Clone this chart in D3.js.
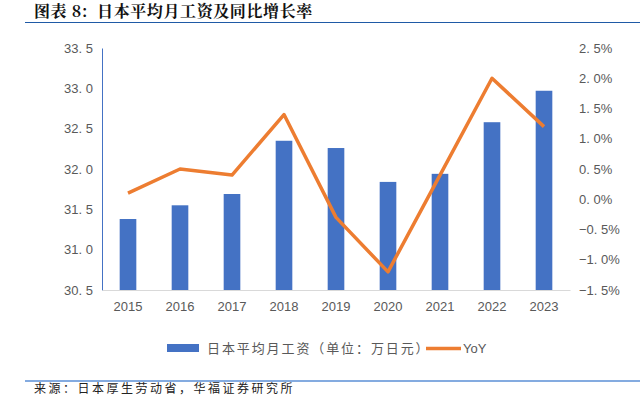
<!DOCTYPE html>
<html>
<head>
<meta charset="utf-8">
<title>日本平均月工资及同比增长率</title>
<script src="https://cdn.jsdelivr.net/npm/d3@7"></script>
<style>
  body { margin: 0; background: #fff; }
  svg { display: block; }
  .tick text { fill: #595959; font-family: "Liberation Sans", Arial, sans-serif; font-size: 13px; white-space: pre; }
</style>
</head>
<body>
<svg width="640" height="395"></svg>
<script>
  var years = ["2015", "2016", "2017", "2018", "2019", "2020", "2021", "2022", "2023"];
  var wage = [31.38, 31.55, 31.69, 32.35, 32.26, 31.84, 31.94, 32.58, 32.97];
  var yoy = [0.1, 0.5, 0.4, 1.4, -0.3, -1.2, 0.4, 2.0, 1.2];
  var leftTicks = [30.5, 31.0, 31.5, 32.0, 32.5, 33.0, 33.5];
  var rightTicks = [-1.5, -1.0, -0.5, 0.0, 0.5, 1.0, 1.5, 2.0, 2.5];

  var svg = d3.select("svg");
  var cjk = "'Noto Sans CJK SC', sans-serif";

  // header and footer
  svg.append("text")
    .attr("x", 34).attr("y", 17)
    .attr("font-family", "'Noto Serif CJK SC', 'Noto Sans CJK SC', serif")
    .attr("font-weight", "bold").attr("font-size", 16)
    .attr("letter-spacing", 0.6)
    .attr("fill", "#111")
    .attr("xml:space", "preserve")
    .text("图表 8:  日本平均月工资及同比增长率");
  svg.append("line")
    .attr("x1", 25).attr("x2", 640).attr("y1", 22.5).attr("y2", 22.5)
    .attr("stroke", "#1f5aa6").attr("stroke-width", 1.2);
  svg.append("line")
    .attr("x1", 25).attr("x2", 640).attr("y1", 381).attr("y2", 381)
    .attr("stroke", "#5b8fd6").attr("stroke-width", 1.6);
  svg.append("text")
    .attr("x", 34).attr("y", 393)
    .attr("font-family", cjk).attr("font-size", 12)
    .attr("letter-spacing", 2.5)
    .attr("fill", "#222")
    .text("来源：日本厚生劳动省，华福证券研究所");

  var x = d3.scaleBand().domain(years).range([102, 570]).paddingInner(0.68).paddingOuter(0.34);
  var yL = d3.scaleLinear().domain([30.5, 33.5]).range([290, 48]);
  var yR = d3.scaleLinear().domain([-1.5, 2.5]).range([290, 48]);

  var fmt = function (d) { return d.toFixed(1).replace(".", ". ").replace("-", "−"); };

  // left axis
  var gl = svg.append("g").attr("transform", "translate(102,0)")
    .call(d3.axisLeft(yL).tickValues(leftTicks).tickSize(0).tickPadding(9).tickFormat(fmt));
  gl.select(".domain").attr("stroke", "#4472c4").attr("stroke-width", 1);

  // right axis
  var gr = svg.append("g").attr("transform", "translate(570,0)")
    .call(d3.axisRight(yR).tickValues(rightTicks).tickSize(0).tickPadding(9)
      .tickFormat(function (d) { return fmt(d) + "%"; }));
  gr.select(".domain").remove();

  // bottom axis
  var gb = svg.append("g").attr("transform", "translate(0,290)")
    .call(d3.axisBottom(x).tickSize(0).tickPadding(12));
  gb.select(".domain").attr("stroke", "#d9d9d9").attr("stroke-width", 1);

  // bars
  svg.append("g").selectAll("rect")
    .data(years)
    .enter().append("rect")
    .attr("x", function (d) { return x(d); })
    .attr("width", x.bandwidth())
    .attr("y", function (d, i) { return yL(wage[i]); })
    .attr("height", function (d, i) { return yL(30.5) - yL(wage[i]); })
    .attr("fill", "#4472c4");

  // yoy line
  var line = d3.line()
    .x(function (d, i) { return x(years[i]) + x.bandwidth() / 2; })
    .y(function (d) { return yR(d); });
  svg.append("path")
    .datum(yoy)
    .attr("d", line)
    .attr("fill", "none")
    .attr("stroke", "#ed7d31")
    .attr("stroke-width", 3.5)
    .attr("stroke-linejoin", "round");

  // legend
  var lg = svg.append("g").attr("font-family", cjk).attr("font-size", 13).attr("fill", "#595959");
  lg.append("rect").attr("x", 167).attr("y", 344).attr("width", 32).attr("height", 8).attr("fill", "#4472c4");
  lg.append("text").attr("x", 207).attr("y", 353).attr("letter-spacing", 1.9).text("日本平均月工资（单位：万日元）");
  lg.append("line").attr("x1", 426).attr("x2", 461).attr("y1", 348.5).attr("y2", 348.5)
    .attr("stroke", "#ed7d31").attr("stroke-width", 3.5);
  lg.append("text").attr("x", 463).attr("y", 353).attr("font-family", "'Liberation Sans', Arial, sans-serif").text("YoY");
</script>
</body>
</html>
